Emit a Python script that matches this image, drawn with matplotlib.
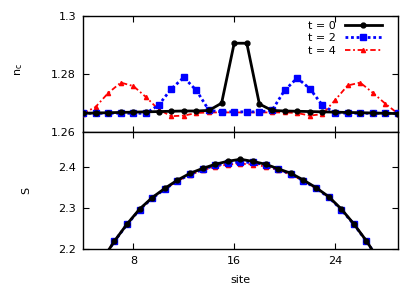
import matplotlib
matplotlib.use("Agg")
import matplotlib.pyplot as plt
import numpy as np

plt.rcParams["font.family"] = ["DejaVu Sans"]
plt.rcParams["font.size"] = 8

# density per site
sites = np.arange(4, 30)
nc_t0 = [1.2665, 1.2666, 1.2667, 1.2668, 1.2669, 1.2670, 1.2671, 1.2672, 1.2673, 1.2673,
         1.2675, 1.2700, 1.2907, 1.2907, 1.2697, 1.2675, 1.2673, 1.2672, 1.2671, 1.2670,
         1.2669, 1.2668, 1.2667, 1.2666, 1.2665, 1.2664]
nc_t2 = [1.2665, 1.2665, 1.2665, 1.2665, 1.2665, 1.2665, 1.2693, 1.2749, 1.2789, 1.2744,
         1.2675, 1.2670, 1.2670, 1.2670, 1.2670, 1.2675, 1.2744, 1.2787, 1.2750, 1.2693,
         1.2667, 1.2665, 1.2665, 1.2665, 1.2665, 1.2665]
nc_t4 = [1.2664, 1.2687, 1.2735, 1.2771, 1.2759, 1.2721, 1.2678, 1.2655, 1.2657, 1.2666,
         1.2668, 1.2668, 1.2668, 1.2668, 1.2668, 1.2668, 1.2668, 1.2666, 1.2657, 1.2662,
         1.2710, 1.2761, 1.2771, 1.2736, 1.2698, 1.2664]

# entanglement entropy per bond
bonds = np.arange(5, 28) + 0.5
S_t0 = [2.172, 2.2195, 2.261, 2.2976, 2.3255, 2.348, 2.368, 2.3846, 2.3965, 2.4066, 2.414, 2.4188,
        2.4135, 2.4066, 2.3955, 2.3846, 2.368, 2.3495, 2.3276, 2.2976, 2.261, 2.2195, 2.172]
S_t2 = [2.172, 2.219, 2.260, 2.296, 2.324, 2.346, 2.366, 2.382, 2.394, 2.404, 2.410, 2.412,
        2.411, 2.405, 2.394, 2.383, 2.366, 2.348, 2.326, 2.296, 2.260, 2.219, 2.172]
S_t4 = [2.172, 2.220, 2.261, 2.297, 2.325, 2.347, 2.366, 2.381, 2.392, 2.401, 2.406, 2.408,
        2.406, 2.401, 2.392, 2.381, 2.366, 2.348, 2.327, 2.297, 2.261, 2.220, 2.172]

labels = ["t = 0", "t = 2", "t = 4"]

fig = plt.figure(figsize=(4.15, 2.91), dpi=100)
ax1 = fig.add_axes([0.2, 0.546, 0.759, 0.398])
ax2 = fig.add_axes([0.2, 0.1443, 0.759, 0.4017])

styles = [
    dict(color="black", ls="-", lw=2.0, marker="o", ms=3.5, zorder=5),
    dict(color="blue", ls=(0, (1, 1)), lw=2.0, marker="s", ms=4, zorder=4),
    dict(color="red", ls=(0, (3, 1.5, 1, 1.5)), lw=1.3, marker="^", ms=3, zorder=3),
]

for y, st, lab in zip([nc_t0, nc_t2, nc_t4], styles, labels):
    ax1.plot(sites, y, label=lab, **st)
for y, st in zip([S_t0, S_t2, S_t4], styles):
    ax2.plot(bonds, y, **st)

ax1.set_xlim(4, 29)
ax1.set_ylim(1.26, 1.3)
ax1.set_yticks([1.26, 1.28, 1.3])
ax1.set_yticklabels(["1.26", "1.28", "1.3"])
ax1.set_xticks([8, 16, 24])
ax1.tick_params(labelbottom=False)
ax1.set_ylabel("n$_\\mathregular{c}$")
ax1.yaxis.set_label_coords(-0.184, 0.536)

ax2.set_xlim(4, 29)
ax2.set_ylim(2.2, 2.485)
ax2.set_yticks([2.2, 2.3, 2.4])
ax2.set_xticks([8, 16, 24])
ax2.set_xlabel("site")
ax2.set_ylabel("S")
ax2.yaxis.set_label_coords(-0.163, 0.504)
ax2.xaxis.set_label_coords(0.5, -0.225)

for ax in (ax1, ax2):
    ax.tick_params(direction="in", top=True, right=True, length=4, width=0.8, labelsize=8, pad=5)
    for sp in ax.spines.values():
        sp.set_linewidth(1.0)

ax1.legend(loc="upper right", bbox_to_anchor=(0.948, 0.96), frameon=False, markerfirst=False,
           handlelength=3.3, handletextpad=0.8, labelspacing=0.22, borderpad=0, borderaxespad=0,
           fontsize=8)

fig.savefig("out.png", dpi=100)
